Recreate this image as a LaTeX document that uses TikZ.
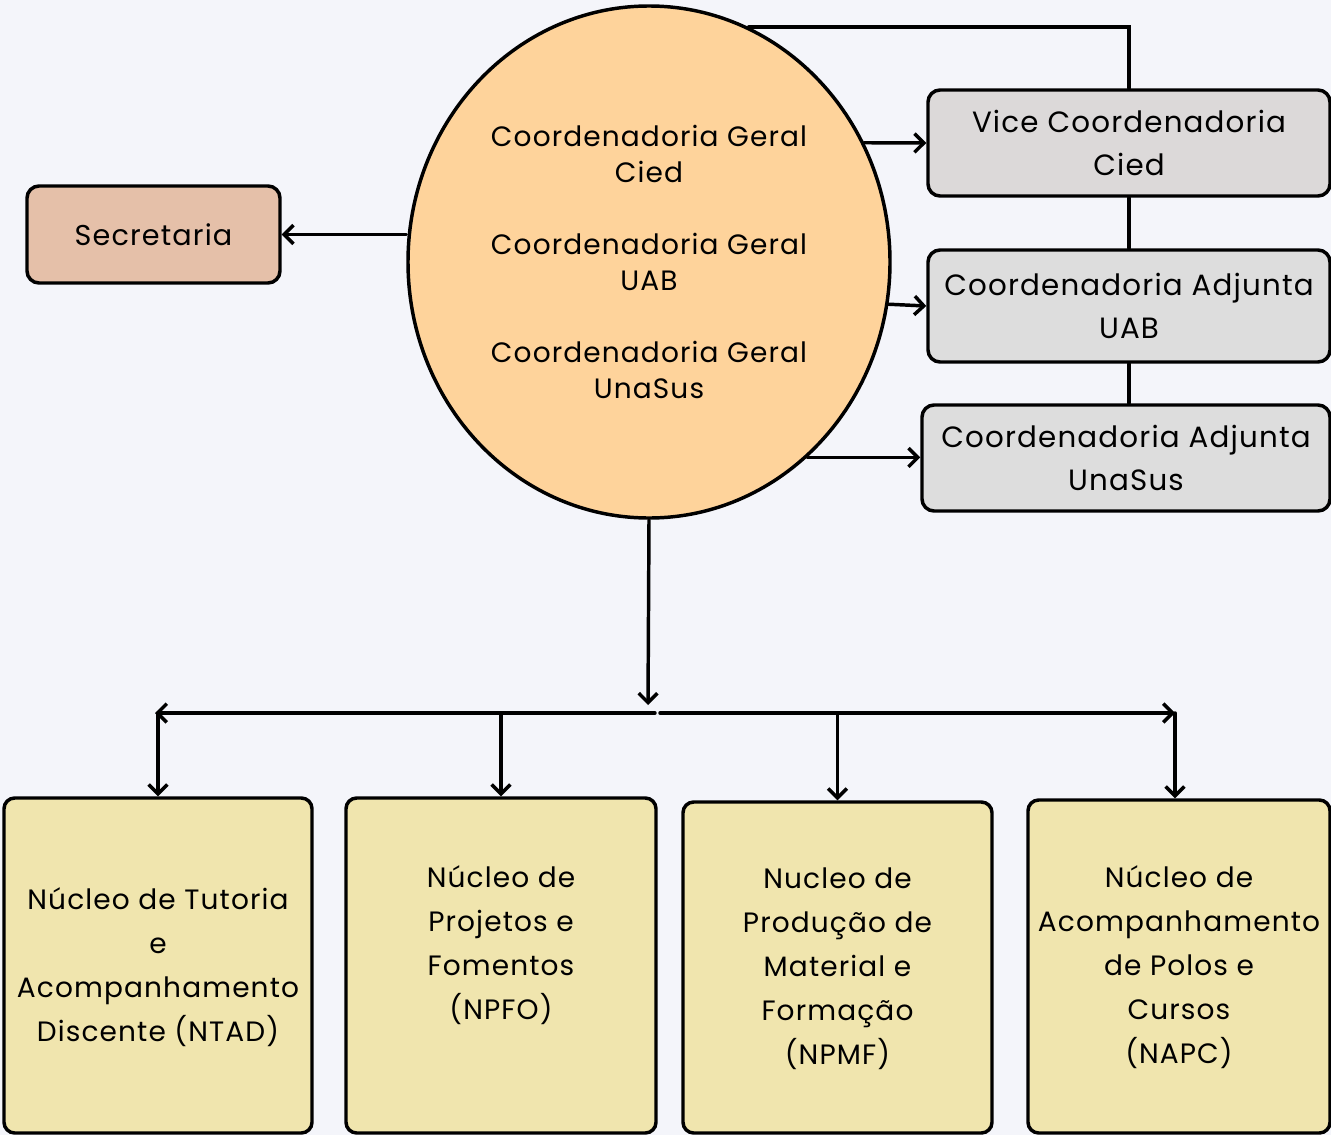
\documentclass[tikz,border=0pt]{standalone}
\usepackage{fontspec}
\setmainfont{Poppins}[LetterSpace=4]
\usetikzlibrary{arrows.meta,shapes.geometric}
\definecolor{bg}{HTML}{F4F5FA}
\definecolor{ellfill}{HTML}{FED39B}
\definecolor{secfill}{HTML}{E5C0A9}
\definecolor{vicefill}{HTML}{DCD9D9}
\definecolor{adjfill}{HTML}{DDDDDD}
\definecolor{nucfill}{HTML}{F0E5AE}
\tikzset{
  box/.style={draw=black, line width=2.6pt, rounded corners=9pt, inner sep=0pt},
  nuc/.style={box, fill=nucfill, rounded corners=8pt},
  adj/.style={box, fill=adjfill},
  lbl/.style={align=center, font=\fontsize{21pt}{33pt}\selectfont},
  rlbl/.style={align=center, font=\fontsize{22pt}{32.5pt}\selectfont},
  conn/.style={line width=2.6pt, line cap=round},
  arr/.style={conn, -{Straight Barb[length=7pt,width=14pt,line width=2.6pt]}},
}
\begin{document}
\begin{tikzpicture}[x=0.75pt,y=-0.75pt]
\path[fill=bg] (0,0) rectangle (1331,1135);
\useasboundingbox (0,0) rectangle (1331,1135);

% central ellipse
\node[ellipse, draw=black, line width=2.6pt, fill=ellfill, minimum width=361.5pt, minimum height=384pt, inner sep=0pt] (E) at (649,262) {};
\node[align=center, font=\fontsize{21pt}{27pt}\selectfont] (Et) at (649,262)
  {Coordenadoria Geral\\Cied\\[27pt]Coordenadoria Geral\\UAB\\[27pt]Coordenadoria Geral\\UnaSus};

% left
\node[box, fill=secfill, minimum width=189.75pt, minimum height=72.75pt, align=center, font=\fontsize{21.5pt}{33pt}\selectfont] (S) at (153.5,234.5) {Secretaria};

% right
\node[box, fill=vicefill, minimum width=301.5pt, minimum height=79.5pt, rlbl] (V) at (1129,143) {Vice Coordenadoria\\Cied};
\node[adj, minimum width=301.5pt, minimum height=84pt, rlbl] (U) at (1129,306) {Coordenadoria Adjunta\\UAB};
\node[adj, minimum width=306pt, minimum height=79.5pt, rlbl] (N) at (1126,458) {Coordenadoria Adjunta\\UnaSus};

% bottom boxes
\node[nuc, minimum width=231pt, minimum height=251.25pt] (B1) at (158,965.5) {};
\node[nuc, minimum width=232.5pt, minimum height=251.25pt] (B2) at (501,965.5) {};
\node[nuc, minimum width=231.75pt, minimum height=248.25pt] (B3) at (837.5,967.5) {};
\node[nuc, minimum width=226.5pt, minimum height=249.75pt] (B4) at (1179,966.5) {};
\node[lbl] (B1t) at (158,967) {Núcleo de Tutoria\\e\\Acompanhamento\\Discente (NTAD)};
\node[lbl] (B2t) at (501,945) {Núcleo de\\Projetos e\\Fomentos\\(NPFO)};
\node[lbl] (B3t) at (837.5,969) {Nucleo de\\Produção de\\Material e\\Formação\\(NPMF)};
\node[lbl] (B4t) at (1179,967) {Núcleo de\\Acompanhamento\\de Polos e\\Cursos\\(NAPC)};

% connectors
\draw[arr] (E.west |- S.east) -- (S.east);
\draw[arr] (E.29) -- (V.west);
\draw[arr] (E.-10) -- (U.west);
\draw[arr] (E.-51) -- (E.-51 -| N.west);
\draw[conn] (E.67) -- (E.67 -| V.north) -- (V.north);
\draw[conn] (V.south) -- (U.north);
\draw[conn] (U.south) -- (U.south |- N.north);

\coordinate (J) at (648,705);
\coordinate (HL) at (155,713);
\coordinate (HR) at (1175,713);
\coordinate (M1) at (655,713);
\coordinate (M2) at (660,713);
\draw[arr] (E.south) -- (J);
\draw[arr] (M1) -- (HL);
\draw[arr] (M2) -- (HR);
\draw[arr] (B1.north |- HL) -- (B1.north);
\draw[arr] (B2.north |- HL) -- (B2.north);
\draw[arr] (B3.north |- HL) -- (B3.north);
\draw[arr] (HR) -- (HR |- B4.north);
\end{tikzpicture}
\end{document}
